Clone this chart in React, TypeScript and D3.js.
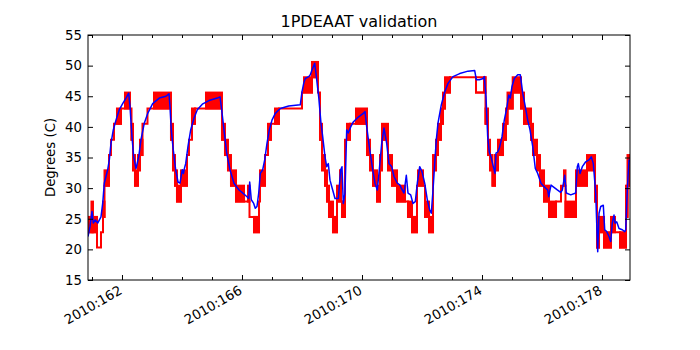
import { useEffect, useRef } from 'react'
import * as d3 from 'd3'

const W = 700
const H = 350
const margin = { top: 35, right: 70, bottom: 70, left: 88 }

const title = '1PDEAAT validation'
const yLabel = 'Degrees (C)'
const xDomain = [160.867, 178.933]
const yDomain = [15, 55]
const yTicks = [15, 20, 25, 30, 35, 40, 45, 50, 55]
const xTickDays = [161, 162, 163, 164, 165, 166, 167, 168, 169, 170, 171, 172, 173, 174, 175, 176, 177, 178]
const xLabelDays = [162, 166, 170, 174, 178]
const xLabels = ['2010:162', '2010:166', '2010:170', '2010:174', '2010:178']

// telemetry (quantized) : [dayStart, dayEnd, low, high]  low == high -> flat step, else toggling band
const redSteps = [
  [160.867, 160.983, 22.8, 25.3], [160.983, 161.033, 22.8, 27.8], [161.033, 161.167, 22.8, 25.3],
  [161.167, 161.3, 20.3, 20.3], [161.3, 161.367, 22.8, 22.8], [161.367, 161.417, 25.3, 27.8],
  [161.417, 161.567, 30.4, 32.9], [161.567, 161.633, 35.4, 35.4], [161.633, 161.733, 37.9, 37.9],
  [161.733, 161.833, 40.5, 40.5], [161.833, 161.967, 40.5, 43.0], [161.967, 162.1, 43.0, 43.0],
  [162.1, 162.267, 43.0, 45.6], [162.267, 162.317, 43.0, 43.0], [162.317, 162.367, 37.9, 40.5],
  [162.367, 162.433, 32.9, 35.4], [162.433, 162.533, 30.4, 32.9], [162.533, 162.6, 32.9, 35.4],
  [162.6, 162.683, 35.4, 37.9], [162.683, 162.85, 40.5, 40.5], [162.85, 163.067, 43.0, 43.0],
  [163.067, 163.633, 43.0, 45.6], [163.633, 163.7, 37.9, 40.5], [163.7, 163.767, 32.9, 35.4],
  [163.767, 163.833, 30.4, 32.9], [163.833, 163.967, 27.8, 30.4], [163.967, 164.167, 30.4, 32.9],
  [164.167, 164.233, 35.4, 35.4], [164.233, 164.333, 37.9, 37.9], [164.333, 164.433, 40.5, 43.0],
  [164.433, 164.8, 43.0, 43.0], [164.8, 165.333, 43.0, 45.6], [165.333, 165.433, 37.9, 40.5],
  [165.433, 165.533, 35.4, 37.9], [165.533, 165.633, 32.9, 35.4], [165.633, 165.8, 30.4, 32.9],
  [165.8, 166.067, 27.8, 30.4], [166.067, 166.2, 27.8, 27.8], [166.2, 166.25, 27.8, 30.4],
  [166.25, 166.4, 25.3, 25.3], [166.4, 166.567, 22.8, 25.3], [166.567, 166.6, 27.8, 27.8],
  [166.6, 166.767, 30.4, 32.9], [166.767, 166.867, 35.4, 35.4], [166.867, 166.967, 37.9, 40.5],
  [166.967, 167.1, 40.5, 40.5], [167.1, 167.233, 40.5, 43.0], [167.233, 168.0, 43.0, 43.0],
  [168.0, 168.067, 45.6, 45.6], [168.067, 168.333, 45.6, 48.1], [168.333, 168.533, 48.1, 50.6],
  [168.533, 168.6, 45.6, 45.6], [168.6, 168.667, 37.9, 40.5], [168.667, 168.767, 32.9, 35.4],
  [168.767, 168.833, 30.4, 32.9], [168.833, 168.9, 27.8, 30.4], [168.9, 169.033, 25.3, 27.8],
  [169.033, 169.167, 22.8, 25.3], [169.167, 169.267, 27.8, 30.4], [169.267, 169.3, 32.9, 32.9],
  [169.3, 169.333, 27.8, 27.8], [169.333, 169.433, 25.3, 27.8], [169.433, 169.5, 37.9, 37.9],
  [169.5, 169.6, 37.9, 40.5], [169.6, 169.8, 40.5, 40.5], [169.8, 170.167, 40.5, 43.0],
  [170.167, 170.267, 35.4, 37.9], [170.267, 170.367, 32.9, 35.4], [170.367, 170.5, 30.4, 32.9],
  [170.5, 170.6, 27.8, 30.4], [170.6, 170.667, 32.9, 35.4], [170.667, 170.867, 37.9, 40.5],
  [170.867, 171.0, 32.9, 35.4], [171.0, 171.167, 30.4, 32.9], [171.167, 171.433, 27.8, 30.4],
  [171.433, 171.533, 27.8, 27.8], [171.533, 171.667, 25.3, 27.8], [171.667, 171.833, 22.8, 25.3],
  [171.833, 171.867, 30.4, 30.4], [171.867, 172.033, 30.4, 32.9], [172.033, 172.1, 30.4, 30.4],
  [172.1, 172.233, 25.3, 27.8], [172.233, 172.367, 22.8, 25.3], [172.367, 172.467, 32.9, 35.4],
  [172.467, 172.533, 35.4, 37.9], [172.533, 172.633, 37.9, 40.5], [172.633, 172.7, 40.5, 43.0],
  [172.7, 172.767, 43.0, 45.6], [172.767, 172.933, 45.6, 48.1], [172.933, 173.8, 48.1, 48.1],
  [173.8, 174.067, 45.6, 45.6], [174.067, 174.117, 48.1, 48.1], [174.117, 174.2, 40.5, 43.0],
  [174.2, 174.267, 35.4, 37.9], [174.267, 174.35, 32.9, 35.4], [174.35, 174.433, 30.4, 32.9],
  [174.433, 174.533, 32.9, 35.4], [174.533, 174.7, 35.4, 37.9], [174.7, 174.8, 37.9, 40.5],
  [174.8, 174.85, 40.5, 43.0], [174.85, 175.023, 43.0, 45.6], [175.023, 175.3, 45.6, 48.1],
  [175.3, 175.4, 43.0, 45.6], [175.4, 175.633, 40.5, 43.0], [175.633, 175.7, 37.9, 40.5],
  [175.7, 175.833, 35.4, 37.9], [175.833, 175.933, 32.9, 35.4], [175.933, 176.067, 30.4, 32.9],
  [176.067, 176.233, 27.8, 30.4], [176.233, 176.467, 25.3, 27.8], [176.467, 176.633, 27.8, 27.8],
  [176.633, 176.733, 30.4, 30.4], [176.733, 176.783, 30.4, 32.9], [176.783, 177.133, 25.3, 27.8],
  [177.133, 177.5, 30.4, 32.9], [177.5, 177.767, 32.9, 35.4], [177.767, 177.833, 27.8, 30.4],
  [177.833, 177.9, 20.3, 22.8], [177.9, 178.067, 22.8, 25.3], [178.067, 178.3, 20.3, 22.8],
  [178.3, 178.433, 22.8, 25.3], [178.433, 178.6, 22.8, 22.8], [178.6, 178.8, 20.3, 22.8],
  [178.8, 178.85, 25.3, 30.4], [178.85, 178.933, 30.4, 35.4],
]
// hollow toggle box near day 174
const redBoxes = [[173.8, 174.117, 45.6, 48.1]]

// model prediction : [day, degC]
const bluePts = [
  [160.867, 22.1], [160.933, 23.7], [161.0, 26.2], [161.043, 24.3], [161.11, 24.8], [161.19, 24.3],
  [161.3, 25.3], [161.357, 27.5], [161.41, 30.8], [161.467, 31.9], [161.523, 33.0], [161.577, 34.6],
  [161.633, 37.3], [161.71, 39.5], [161.8, 41.1], [161.91, 42.8], [162.023, 43.8], [162.133, 44.7],
  [162.223, 45.5], [162.267, 43.3], [162.333, 38.4], [162.39, 35.1], [162.467, 33.2], [162.557, 35.1],
  [162.633, 37.9], [162.743, 40.6], [162.857, 42.2], [163.023, 43.8], [163.243, 44.7], [163.467, 45.0],
  [163.567, 45.4], [163.6, 43.3], [163.643, 39.5], [163.71, 36.2], [163.79, 33.0], [163.867, 31.0],
  [163.933, 30.8], [164.01, 33.0], [164.05, 32.4], [164.08, 33.2], [164.123, 34.0], [164.2, 36.8],
  [164.29, 39.5], [164.4, 41.4], [164.51, 42.8], [164.677, 43.7], [164.9, 44.3], [165.177, 44.7],
  [165.267, 44.9], [165.31, 43.3], [165.4, 39.5], [165.49, 35.7], [165.6, 33.0], [165.733, 30.8],
  [165.9, 29.7], [166.0, 29.3], [166.167, 28.6], [166.223, 28.3], [166.257, 31.0], [166.31, 28.1],
  [166.39, 27.5], [166.443, 26.7], [166.5, 27.0], [166.557, 29.2], [166.61, 32.4], [166.69, 33.0],
  [166.757, 34.6], [166.833, 37.3], [166.91, 39.5], [167.0, 41.1], [167.11, 42.2], [167.277, 43.0],
  [167.557, 43.4], [167.943, 43.6], [168.0, 45.7], [168.057, 47.1], [168.11, 47.9], [168.223, 48.2],
  [168.277, 48.5], [168.333, 49.3], [168.423, 50.4], [168.467, 48.7], [168.557, 44.9], [168.633, 40.6],
  [168.69, 38.4], [168.767, 35.1], [168.823, 33.5], [168.877, 34.0], [168.933, 31.3], [169.023, 29.7],
  [169.1, 28.3], [169.21, 28.3], [169.29, 33.0], [169.333, 33.5], [169.377, 27.5], [169.433, 29.2],
  [169.49, 39.5], [169.543, 39.0], [169.623, 40.0], [169.71, 40.8], [169.877, 41.6], [170.043, 42.2],
  [170.1, 42.5], [170.157, 40.0], [170.243, 36.8], [170.357, 33.0], [170.433, 30.8], [170.51, 29.7],
  [170.577, 33.0], [170.657, 37.3], [170.733, 39.8], [170.823, 37.3], [170.9, 34.0], [170.99, 33.5],
  [171.067, 31.9], [171.177, 30.8], [171.267, 30.5], [171.31, 30.0], [171.4, 29.2], [171.477, 32.1],
  [171.533, 29.2], [171.623, 28.9], [171.7, 27.5], [171.777, 27.8], [171.843, 30.8], [171.923, 33.5],
  [172.0, 32.7], [172.09, 30.8], [172.177, 28.1], [172.257, 26.4], [172.31, 25.9], [172.367, 29.7],
  [172.423, 34.0], [172.477, 37.9], [172.533, 40.6], [172.643, 43.6], [172.757, 45.7], [172.867, 47.1],
  [173.033, 48.2], [173.257, 48.7], [173.533, 49.1], [173.757, 49.2], [173.81, 47.7], [173.91, 47.7],
  [174.043, 47.9], [174.077, 48.2], [174.133, 44.9], [174.19, 38.4], [174.243, 35.9], [174.3, 35.1],
  [174.377, 33.5], [174.433, 32.4], [174.467, 35.7], [174.523, 35.9], [174.577, 36.5], [174.667, 38.4],
  [174.743, 41.1], [174.823, 43.0], [174.89, 45.2], [174.943, 44.7], [175.0, 46.6], [175.077, 47.9],
  [175.19, 48.5], [175.277, 48.5], [175.357, 45.5], [175.443, 43.3], [175.523, 41.1], [175.6, 39.5],
  [175.69, 36.8], [175.777, 33.2], [175.857, 32.4], [175.967, 30.8], [176.077, 30.2], [176.19, 29.7],
  [176.223, 28.6], [176.3, 30.5], [176.51, 29.7], [176.623, 29.3], [176.677, 29.7], [176.757, 32.1],
  [176.81, 29.2], [176.957, 28.9], [177.123, 29.2], [177.177, 33.5], [177.21, 34.0], [177.267, 32.4],
  [177.343, 33.5], [177.457, 34.3], [177.567, 34.6], [177.643, 35.1], [177.71, 34.0], [177.79, 29.2],
  [177.823, 24.3], [177.857, 19.6], [177.9, 25.9], [177.957, 27.0], [178.043, 27.2], [178.09, 23.2],
  [178.157, 22.9], [178.233, 22.1], [178.29, 21.3], [178.343, 24.3], [178.4, 25.6], [178.433, 24.3],
  [178.49, 24.5], [178.567, 23.4], [178.677, 23.2], [178.757, 22.9], [178.79, 23.2], [178.843, 29.7],
  [178.9, 34.6], [178.933, 34.3],
]

const FONT = "'DejaVu Sans', sans-serif"

export default function App() {
  const svgRef = useRef(null)

  useEffect(() => {
    const svg = d3.select(svgRef.current)
    svg.selectAll('*').remove()

    const innerW = W - margin.left - margin.right
    const innerH = H - margin.top - margin.bottom
    const x = d3.scaleLinear().domain(xDomain).range([0, innerW])
    const y = d3.scaleLinear().domain(yDomain).range([innerH, 0])

    svg.append('rect').attr('width', W).attr('height', H).attr('fill', '#fff')

    svg.append('defs').append('clipPath').attr('id', 'plot-clip')
      .append('rect').attr('width', innerW).attr('height', innerH)

    const g = svg.append('g').attr('transform', `translate(${margin.left},${margin.top})`)
    const plot = g.append('g').attr('clip-path', 'url(#plot-clip)')

    // red step trace
    const stepPts = redSteps.map(d => [d[0], d[2]])
    const last = redSteps[redSteps.length - 1]
    stepPts.push([last[1], last[2]])
    plot.append('path')
      .attr('d', d3.line().x(d => x(d[0])).y(d => y(d[1])).curve(d3.curveStepAfter)(stepPts))
      .attr('fill', 'none').attr('stroke', '#ff0000').attr('stroke-width', 2)

    plot.selectAll('rect.band')
      .data(redSteps.filter(d => d[3] > d[2]))
      .join('rect')
      .attr('class', 'band')
      .attr('x', d => x(d[0])).attr('width', d => x(d[1]) - x(d[0]))
      .attr('y', d => y(d[3])).attr('height', d => y(d[2]) - y(d[3]))
      .attr('fill', '#ff0000').attr('stroke', '#ff0000').attr('stroke-width', 2)

    plot.selectAll('rect.box')
      .data(redBoxes)
      .join('rect')
      .attr('class', 'box')
      .attr('x', d => x(d[0])).attr('width', d => x(d[1]) - x(d[0]))
      .attr('y', d => y(d[3])).attr('height', d => y(d[2]) - y(d[3]))
      .attr('fill', 'none').attr('stroke', '#ff0000').attr('stroke-width', 2)

    // blue model
    plot.append('path')
      .attr('d', d3.line().x(d => x(d[0])).y(d => y(d[1]))(bluePts))
      .attr('fill', 'none').attr('stroke', '#0000ff').attr('stroke-width', 1.5)
      .attr('stroke-linejoin', 'round')

    // axes (ticks inside, all four sides; labelled days get longer ticks)
    const styleAxis = gg => {
      gg.select('.domain').remove()
      gg.selectAll('.tick line').attr('stroke', '#000')
      gg.selectAll('.tick text').attr('fill', '#000').attr('font-size', '13.3px').attr('font-family', FONT)
    }
    const tickLen = d => (xLabelDays.includes(d) ? 5 : 3)
    g.append('g').call(d3.axisLeft(y).tickValues(yTicks).tickSize(-5).tickPadding(6).tickFormat(d3.format('d'))).call(styleAxis)
    g.append('g').attr('transform', `translate(${innerW},0)`)
      .call(d3.axisRight(y).tickValues(yTicks).tickSize(-5).tickFormat(() => '')).call(styleAxis)
    g.append('g').attr('transform', `translate(0,${innerH})`)
      .call(d3.axisBottom(x).tickValues(xTickDays).tickSize(-5).tickFormat(() => '')).call(styleAxis)
      .call(gg => gg.selectAll('.tick line').attr('y2', d => -tickLen(d)))
    g.append('g')
      .call(d3.axisTop(x).tickValues(xTickDays).tickSize(-5).tickFormat(() => '')).call(styleAxis)
      .call(gg => gg.selectAll('.tick line').attr('y2', d => tickLen(d)))

    g.append('rect').attr('width', innerW).attr('height', innerH)
      .attr('fill', 'none').attr('stroke', '#000').attr('stroke-width', 1)

    // rotated date labels
    g.selectAll('text.xlab')
      .data(xLabelDays)
      .join('text')
      .attr('class', 'xlab')
      .attr('transform', d => `translate(${x(d) + 1},${innerH + 13}) rotate(-30)`)
      .attr('text-anchor', 'end')
      .attr('font-size', '13.3px').attr('font-family', FONT).attr('fill', '#000')
      .text((d, i) => xLabels[i])

    svg.append('text')
      .attr('x', margin.left + innerW / 2).attr('y', 27)
      .attr('text-anchor', 'middle')
      .attr('font-size', '16px').attr('font-family', FONT)
      .text(title)

    svg.append('text')
      .attr('transform', `translate(55,${margin.top + innerH / 2}) rotate(-90)`)
      .attr('text-anchor', 'middle')
      .attr('font-size', '13.3px').attr('font-family', FONT)
      .text(yLabel)
  }, [])

  return (
    <svg ref={svgRef} width={W} height={H}
      style={{ position: 'absolute', left: 0, top: 0, display: 'block' }} />
  )
}
